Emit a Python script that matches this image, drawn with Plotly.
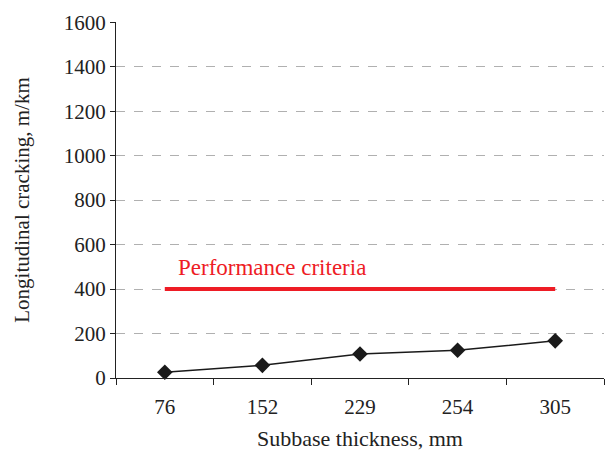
import plotly.graph_objects as go

categories = ["76", "152", "229", "254", "305"]
cracking = [26, 57, 108, 125, 167]
criteria_value = 400
criteria_label = "Performance criteria"
y_ticks = [0, 200, 400, 600, 800, 1000, 1200, 1400, 1600]

FONT = "Liberation Serif, Times New Roman, serif"

fig = go.Figure()
fig.add_trace(go.Scatter(
    x=categories, y=[criteria_value] * len(categories), mode="lines",
    line=dict(color="#ee1c25", width=4), hoverinfo="skip", showlegend=False,
))
fig.add_trace(go.Scatter(
    x=categories, y=cracking, mode="lines+markers",
    line=dict(color="#1a1a1a", width=1.5),
    marker=dict(symbol="diamond", size=12, color="#1a1a1a"),
    showlegend=False, cliponaxis=False,
))
fig.add_annotation(
    x=0, y=criteria_value, xref="x", yref="y", text=criteria_label,
    showarrow=False, xanchor="left", yanchor="bottom", xshift=11, yshift=7,
    font=dict(family=FONT, size=23, color="#ee1c25"),
)

fig.update_layout(
    width=607, height=454,
    margin=dict(l=116, r=3, t=22, b=76),
    paper_bgcolor="white", plot_bgcolor="white",
    font=dict(family=FONT, size=21, color="#222"),
    xaxis=dict(
        type="category", range=[-0.5, 4.5],
        showline=True, linecolor="#222", linewidth=1.2,
        ticks="outside", ticklen=6, tickcolor="#222", tickson="boundaries",
        ticklabelstandoff=10,
        showgrid=False,
        title=dict(text="Subbase thickness, mm", standoff=12, font=dict(size=22)),
    ),
    yaxis=dict(
        range=[0, 1601], tickvals=y_ticks,
        showline=True, linecolor="#222", linewidth=1.2,
        ticks="outside", ticklen=5, tickcolor="#222",
        showgrid=True, gridcolor="#b0b0b0", griddash="dash", gridwidth=1,
        zeroline=False,
        title=dict(text="Longitudinal cracking, m/km", standoff=28, font=dict(size=21)),
    ),
)

fig.write_html("out.html")
